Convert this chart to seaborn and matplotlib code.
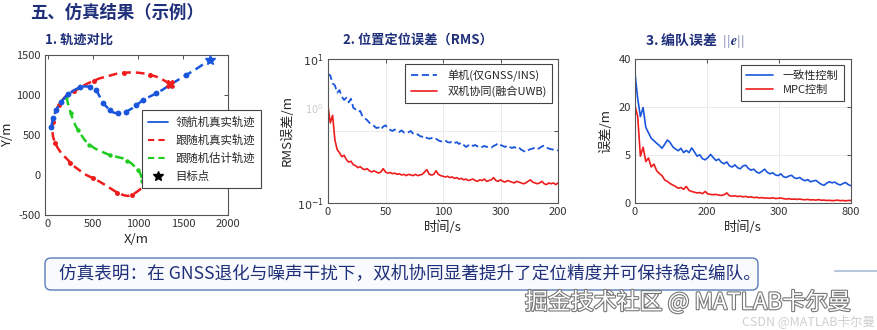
import numpy as np
import pandas as pd
import seaborn as sns
import matplotlib.pyplot as plt
from matplotlib.lines import Line2D
from matplotlib.patches import FancyBboxPatch
import matplotlib.patheffects as pe
import matplotlib.transforms as mtransforms

# ---- 1. trajectories (m) ----
leader_x = [37, 45, 56, 75, 93, 120, 148, 185, 222, 290, 352, 410, 463, 510, 537, 575, 611, 650, 685,
            730, 778, 825, 870, 930, 981, 1020, 1056, 1130, 1204, 1280, 1352, 1440, 1537, 1660, 1796]
leader_y = [596, 650, 708, 765, 812, 870, 917, 965, 1012, 1060, 1096, 1108, 1104, 1090, 1062, 979, 896, 854, 812,
            779, 771, 778, 792, 830, 875, 905, 937, 980, 1021, 1070, 1125, 1185, 1250, 1335, 1437]
follower_x = [1352, 1315, 1260, 1204, 1130, 1056, 990, 926, 850, 778, 680, 574, 510, 444, 400, 352, 290, 222,
              180, 148, 120, 100, 80, 63, 52, 48, 50, 56, 80, 111, 150, 204, 250, 296, 360, 426, 500, 574,
              650, 722, 770, 815, 850, 889, 930, 963, 1000, 1037]
follower_y = [1137, 1167, 1200, 1229, 1255, 1271, 1280, 1283, 1278, 1271, 1240, 1208, 1180, 1146, 1120, 1083,
              1050, 1012, 965, 917, 875, 833, 780, 729, 660, 596, 540, 479, 400, 333, 270, 208, 155, 104, 50,
              0, -40, -83, -135, -187, -220, -242, -255, -262, -250, -229, -200, -167]
estimate_x = [205, 215, 230, 255, 278, 305, 333, 370, 407, 460, 519, 600, 685, 760, 833, 880, 926, 965,
              1000, 1025, 1037, 1050]
estimate_y = [979, 930, 854, 770, 688, 620, 563, 500, 438, 380, 333, 290, 250, 228, 208, 180, 146, 105,
              62, 20, -21, -70]
traj_labels = ['领航机真实轨迹', '跟随机真实轨迹', '跟随机估计轨迹', '目标点']

# ---- 2. RMS positioning error (m), t = 0..200 s step 2 ----
rms_t = list(range(0, 201, 2))
rms_single = [6.2, 5.9, 4.6, 4.3, 3.4, 3.7, 3.0, 2.7, 2.9, 2.5, 2.8, 2.1, 2.0, 1.85, 1.9, 1.6, 1.5, 1.42,
              1.3, 1.25, 1.18, 1.1, 1.12, 1.05, 1.15, 1.2, 1.08, 1.04, 1.0, 1.05, 0.99, 0.97, 1.02, 0.95,
              0.93, 0.96, 1.0, 0.92, 0.88, 0.9, 0.85, 0.83, 0.86, 0.8, 0.78, 0.8, 0.76, 0.78, 0.74, 0.72,
              0.71, 0.74, 0.7, 0.69, 0.72, 0.68, 0.7, 0.66, 0.69, 0.64, 0.6, 0.63, 0.66, 0.62, 0.64, 0.61,
              0.63, 0.6, 0.62, 0.6, 0.61, 0.59, 0.62, 0.64, 0.68, 0.64, 0.62, 0.6, 0.63, 0.6, 0.58, 0.6,
              0.57, 0.59, 0.55, 0.53, 0.51, 0.54, 0.56, 0.57, 0.59, 0.56, 0.58, 0.61, 0.63, 0.59, 0.57,
              0.56, 0.55, 0.53, 0.54]
rms_coop = [2.2, 1.3, 1.65, 0.75, 0.55, 0.5, 0.44, 0.46, 0.4, 0.37, 0.38, 0.34, 0.33, 0.31, 0.32, 0.3,
            0.29, 0.3, 0.28, 0.27, 0.28, 0.27, 0.26, 0.27, 0.3, 0.27, 0.26, 0.265, 0.255, 0.26, 0.25, 0.255,
            0.245, 0.25, 0.24, 0.25, 0.245, 0.24, 0.25, 0.24, 0.245, 0.25, 0.27, 0.29, 0.25, 0.245, 0.25,
            0.28, 0.25, 0.24, 0.235, 0.23, 0.235, 0.225, 0.23, 0.22, 0.225, 0.215, 0.22, 0.21, 0.215, 0.205,
            0.21, 0.215, 0.205, 0.2, 0.21, 0.205, 0.215, 0.2, 0.205, 0.21, 0.225, 0.205, 0.2, 0.21, 0.2,
            0.195, 0.205, 0.2, 0.195, 0.19, 0.2, 0.195, 0.19, 0.185, 0.19, 0.2, 0.21, 0.195, 0.19, 0.185,
            0.19, 0.2, 0.185, 0.18, 0.19, 0.185, 0.19, 0.18, 0.19]
rms_labels = ['单机(仅GNSS/INS)', '双机协同(融合UWB)']
rms_xticks = [0, 50, 100, 150, 200]
rms_xticklabels = ['0', '50', '100', '300', '200']

# ---- 3. formation error, t = 0..800 s step 10 (plotted on a 0..40 axis) ----
form_t = list(range(0, 801, 10))
form_consensus = [36.0, 29.0, 24.0, 26.5, 21.0, 19.5, 18.0, 17.3, 16.6, 16.0, 15.2, 16.3, 17.5, 16.8, 15.6,
                  15.0, 14.5, 15.2, 14.0, 14.6, 14.0, 15.3, 14.2, 13.0, 13.4, 12.3, 12.0, 12.6, 13.5, 12.6,
                  11.8, 12.2, 11.3, 10.9, 11.4, 10.3, 10.0, 10.6, 9.8, 9.5, 10.3, 10.5, 9.6, 9.1, 9.4, 8.6,
                  8.3, 8.8, 9.4, 8.5, 8.1, 8.4, 7.8, 7.6, 8.1, 7.3, 7.1, 7.5, 7.7, 7.0, 6.8, 7.1, 6.5, 6.2,
                  6.5, 5.9, 6.1, 6.3, 5.7, 5.2, 4.9, 5.5, 5.9, 5.6, 5.8, 5.3, 5.0, 5.4, 5.7, 5.1, 4.8]
form_mpc = [27.0, 24.0, 13.0, 15.5, 11.5, 12.5, 10.0, 10.8, 9.0, 8.2, 7.6, 6.4, 6.0, 5.4, 5.0, 4.6, 4.1, 4.3,
            3.8, 4.6, 3.5, 3.2, 3.0, 2.8, 2.9, 2.6, 3.2, 2.5, 2.4, 2.3, 2.4, 2.2, 2.1, 2.3, 2.8, 2.0, 1.9,
            2.0, 1.8, 1.9, 1.7, 1.85, 1.6, 1.7, 1.5, 1.6, 1.4, 1.5, 1.35, 1.4, 1.3, 1.45, 1.25, 1.3, 1.4,
            1.2, 1.1, 1.2, 1.05, 1.1, 1.0, 1.1, 0.95, 0.9, 1.0, 0.85, 0.9, 0.8, 0.95, 0.75, 0.8, 0.7, 0.75,
            0.65, 0.7, 0.8, 0.65, 0.7, 0.6, 0.7, 0.7]
form_labels = ['一致性控制', 'MPC控制']
form_xticks = [0, 800 / 3, 1600 / 3, 800]
form_xticklabels = ['0', '200', '300', '800']
form_yticks = [0, 40 / 3, 80 / 3, 40]
form_yticklabels = ['0', '5', '20', '40']

BLUE = '#1a56db'
RED = '#ee1c1c'
GREEN = '#1fcc1f'
NAVY = '#1f2f7a'

sns.set_theme(style='white')
plt.rcParams['font.family'] = ['Noto Sans CJK SC', 'DejaVu Sans']
plt.rcParams['axes.unicode_minus'] = False

fig = plt.figure(figsize=(8.77, 3.3), dpi=100)
fig.patch.set_facecolor('white')

# background layer in pixel coordinates for titles / boxes
bg = fig.add_axes([0, 0, 1, 1])
bg.set_xlim(0, 877)
bg.set_ylim(330, 0)
bg.axis('off')

ax1 = fig.add_axes([45 / 877, 1 - 215 / 330, 183 / 877, 160 / 330])
ax2 = fig.add_axes([328 / 877, 1 - 203 / 330, 230 / 877, 144 / 330])
ax3 = fig.add_axes([635 / 877, 1 - 203 / 330, 216 / 877, 144 / 330])


def style_axes(ax):
    for s in ax.spines.values():
        s.set_color('#555555')
        s.set_linewidth(0.8)
    ax.tick_params(direction='in', length=3, width=0.6, labelsize=8, colors='#333333',
                   top=True, right=True, pad=3)


# ---- panel 1 ----
dash = (0, (3.5, 2))
sns.lineplot(x=estimate_x, y=estimate_y, sort=False, estimator=None, ax=ax1, color=GREEN,
             linewidth=1.8, linestyle=dash, marker='o', markersize=3.2, markevery=3, markeredgewidth=0)
sns.lineplot(x=follower_x, y=follower_y, sort=False, estimator=None, ax=ax1, color=RED,
             linewidth=1.8, linestyle=dash, marker='o', markersize=3.6, markevery=4, markeredgewidth=0)
sns.lineplot(x=leader_x, y=leader_y, sort=False, estimator=None, ax=ax1, color=BLUE,
             linewidth=1.8, linestyle=dash, marker='o', markersize=4.2, markevery=2, markeredgewidth=0)
ax1.plot(leader_x[-1], leader_y[-1], marker='*', color=BLUE, markersize=7, zorder=5)
ax1.plot(follower_x[0], follower_y[0], marker='X', color=RED, markersize=5.5, zorder=5)
ax1.set_xlim(-33, 2000)
ax1.set_ylim(-500, 1500)
ax1.set_xticks([0, 500, 1000, 1500, 2000])
ax1.set_yticks([-500, 0, 500, 1000, 1500])
ax1.set_xlabel('X/m', fontsize=9.5, labelpad=3)
ax1.set_ylabel('Y/m', fontsize=9.5, labelpad=2)
style_axes(ax1)
h1 = [Line2D([], [], color=BLUE, lw=1.3),
      Line2D([], [], color=RED, lw=1.5, ls=(0, (3, 2))),
      Line2D([], [], color=GREEN, lw=1.5, ls=(0, (3, 2))),
      Line2D([], [], color='black', marker='*', ls='none', markersize=7)]
lg1 = ax1.legend(h1, traj_labels, loc='upper left', bbox_to_anchor=(0.53, 0.656), borderaxespad=0,
                 fontsize=8.2, frameon=True, fancybox=False, framealpha=1, edgecolor='#444444',
                 handlelength=1.7, handletextpad=0.7, labelspacing=0.6, borderpad=0.55)
lg1.get_frame().set_linewidth(0.8)
lg1.set_zorder(10)

# ---- panel 2 ----
rms_df = pd.DataFrame({'t': rms_t, 'single': rms_single, 'coop': rms_coop})
sns.lineplot(data=rms_df, x='t', y='single', ax=ax2, color=BLUE, linewidth=1.3,
             linestyle=(0, (4, 2)), label=rms_labels[0])
sns.lineplot(data=rms_df, x='t', y='coop', ax=ax2, color=RED, linewidth=1.2, label=rms_labels[1])
ax2.set_yscale('log')
ax2.set_xlim(0, 200)
ax2.set_ylim(0.1, 10)
ax2.set_xticks(rms_xticks)
ax2.set_xticklabels(rms_xticklabels)
ax2.set_yticks([0.1, 1, 10])
ax2.set_yticklabels(['$10^{-1}$', '', '$10^{1}$'])
ax2.yaxis.set_minor_locator(plt.NullLocator())
ax2.text(-0.02, 2.0, '$10^{0}$', transform=mtransforms.blended_transform_factory(ax2.transAxes, ax2.transData),
         ha='right', va='center', fontsize=7, color='#c8c8c8')
ax2.grid(True, color='#e8e8e8', linewidth=0.6)
ax2.set_xlabel('时间/s', fontsize=9.5, labelpad=2)
ax2.set_ylabel('RMS误差/m', fontsize=9.5, labelpad=2)
style_axes(ax2)
lg2 = ax2.legend(loc='upper right', bbox_to_anchor=(0.975, 0.965), borderaxespad=0, fontsize=8,
                 fancybox=False, framealpha=1, edgecolor='#444444', handlelength=2.4,
                 handletextpad=0.9, labelspacing=0.35, borderpad=0.5)
lg2.get_frame().set_linewidth(0.8)

# ---- panel 3 ----
form_df = pd.DataFrame({'t': form_t, 'consensus': form_consensus, 'mpc': form_mpc})
sns.lineplot(data=form_df, x='t', y='consensus', ax=ax3, color=BLUE, linewidth=1.2, label=form_labels[0])
sns.lineplot(data=form_df, x='t', y='mpc', ax=ax3, color=RED, linewidth=1.2, label=form_labels[1])
ax3.set_xlim(0, 800)
ax3.set_ylim(0, 40)
ax3.set_xticks(form_xticks)
ax3.set_xticklabels(form_xticklabels)
ax3.set_yticks(form_yticks)
ax3.set_yticklabels(form_yticklabels)
ax3.grid(True, color='#e8e8e8', linewidth=0.6)
ax3.set_xlabel('时间/s', fontsize=9.5, labelpad=2)
ax3.set_ylabel('误差/m', fontsize=9.5, labelpad=4)
style_axes(ax3)
lg3 = ax3.legend(loc='upper right', bbox_to_anchor=(0.968, 0.958), borderaxespad=0, fontsize=8,
                 fancybox=False, framealpha=1, edgecolor='#444444', handlelength=2.4,
                 handletextpad=0.9, labelspacing=0.35, borderpad=0.5)
lg3.get_frame().set_linewidth(0.8)

# ---- titles and notes ----
bg.text(30, 13, '五、仿真结果（示例）', fontsize=12.5, fontweight='bold', color=NAVY, va='center')
bg.text(45, 40, '1. 轨迹对比', fontsize=9.5, fontweight='bold', color=NAVY, va='center')
bg.text(343, 40, '2. 位置定位误差（RMS）', fontsize=9.5, fontweight='bold', color=NAVY, va='center')
bg.text(645, 40, r'3. 编队误差  $||\boldsymbol{e}||$', fontsize=10, fontweight='bold', color=NAVY,
        va='center', math_fontfamily='cm')

box = FancyBboxPatch((45, 258), 713, 32, boxstyle='round,pad=0,rounding_size=6',
                     facecolor='#f8fafd', edgecolor='#5b7db8', linewidth=1.0)
bg.add_patch(box)
bg.text(59, 274, '仿真表明：在 GNSS退化与噪声干扰下，双机协同显著提升了定位精度并可保持稳定编队。',
        fontsize=12.7, color=NAVY, va='center')
bg.plot([835, 877], [271, 271], color='#b6c7de', linewidth=1.5)

wm = bg.text(525, 302, '掘金技术社区 @ MATLAB卡尔曼', fontsize=16.5, color='white', va='center')
wm.set_path_effects([pe.withStroke(linewidth=1.6, foreground='#777777')])
bg.text(875, 321, 'CSDN @MATLAB卡尔曼', fontsize=9, color='#cfcfcf', va='center', ha='right')

fig.savefig('out.png', dpi=100)
